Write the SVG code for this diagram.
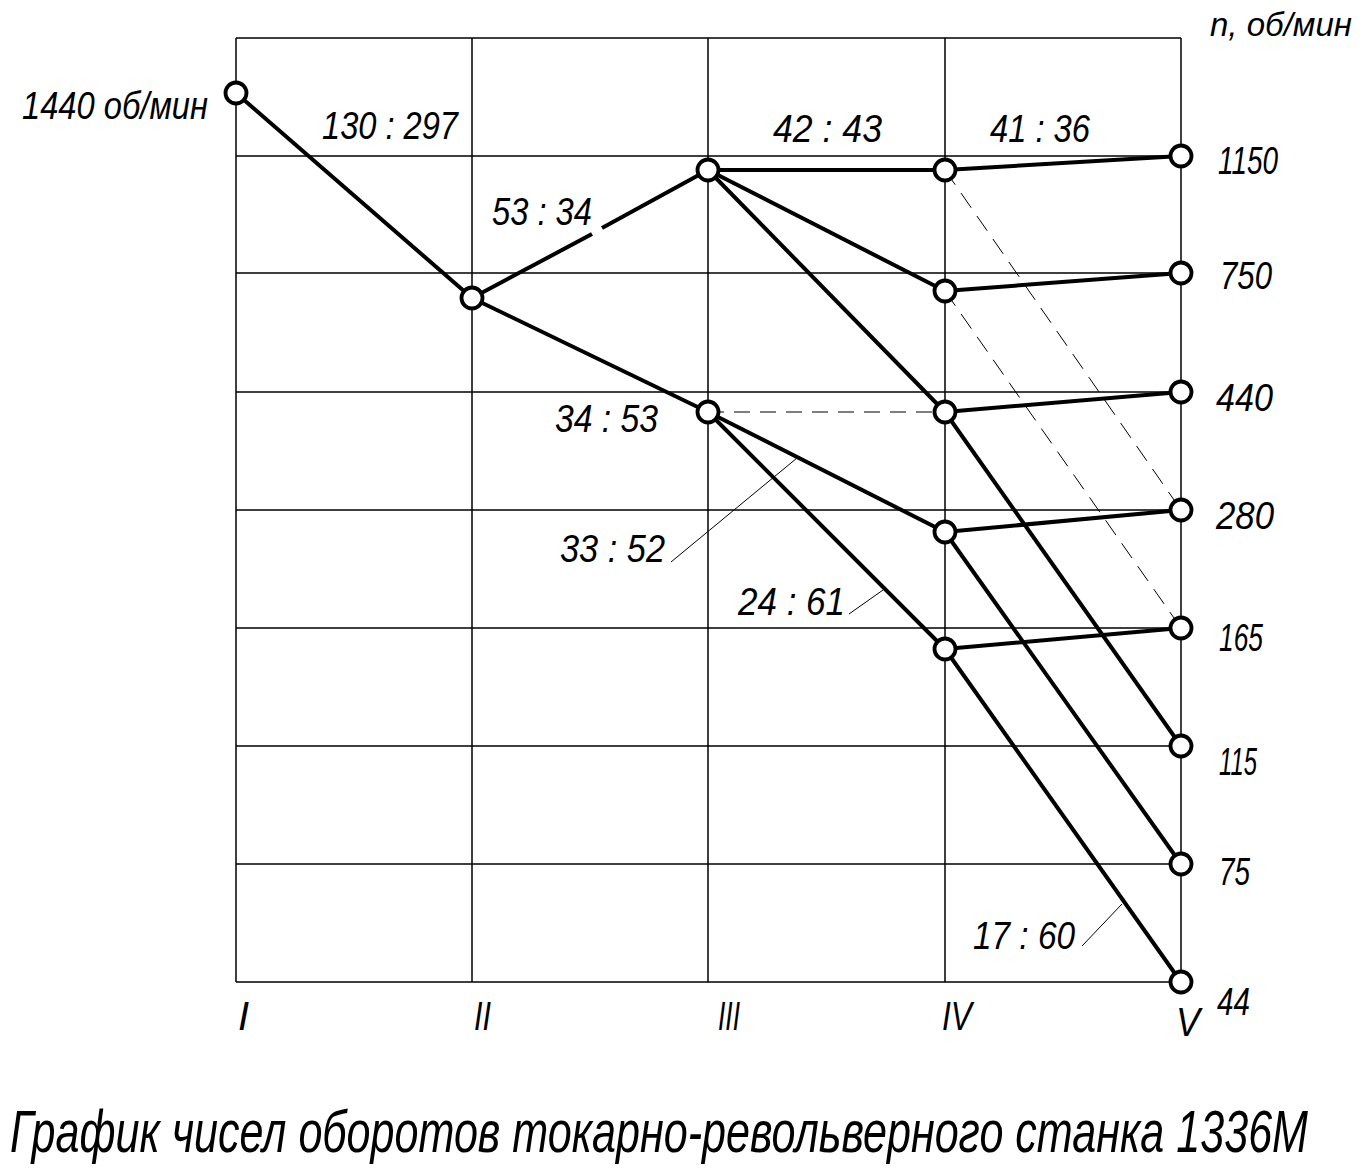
<svg xmlns="http://www.w3.org/2000/svg" width="1369" height="1174" viewBox="0 0 1369 1174">
<style>
.grid{stroke:#000;stroke-width:1.5;fill:none}
.ln{stroke:#000;stroke-width:4;fill:none;stroke-linecap:butt}
.dash{stroke:#000;stroke-width:1;fill:none;stroke-dasharray:18 10}
.dashh{stroke:#000;stroke-width:1.2;fill:none;stroke-dasharray:16 10}
.lead{stroke:#000;stroke-width:1;fill:none}
.nd{fill:#fff;stroke:#000;stroke-width:3.8}
text{font-family:"Liberation Sans","DejaVu Sans",sans-serif;font-style:italic;fill:#000}
.lbl{font-size:38px}
.top{font-size:34px}
.rom{font-size:40px}
.ttl{font-size:45px}
</style>
<rect width="1369" height="1174" fill="#fff"/>
<g id="grid">
<path class="grid" d="M236 38H1181M236 156H1181M236 273H1181M236 392H1181M236 510H1181M236 628H1181M236 746H1181M236 864H1181M236 982H1181"/>
<path class="grid" d="M236 38V982M472 38V982M708 38V982M945 38V982M1181 38V982"/>
</g>
<g id="connectors">
<line class="ln" x1="236" y1="93" x2="472" y2="298"/>
<line class="ln" x1="472" y1="298" x2="592" y2="234"/>
<line class="ln" x1="602" y1="228" x2="708" y2="170"/>
<line class="ln" x1="472" y1="298" x2="708" y2="412"/>
<line class="ln" x1="708" y1="170" x2="945" y2="170"/>
<line class="ln" x1="708" y1="170" x2="945" y2="291"/>
<line class="ln" x1="708" y1="170" x2="945" y2="412"/>
<line class="ln" x1="708" y1="412" x2="945" y2="532"/>
<line class="ln" x1="708" y1="412" x2="945" y2="649"/>
<line class="ln" x1="945" y1="170" x2="1181" y2="156"/>
<line class="ln" x1="945" y1="291" x2="1181" y2="273"/>
<line class="ln" x1="945" y1="412" x2="1181" y2="392"/>
<line class="ln" x1="945" y1="532" x2="1181" y2="510"/>
<line class="ln" x1="945" y1="649" x2="1181" y2="628"/>
<line class="ln" x1="945" y1="412" x2="1181" y2="746"/>
<line class="ln" x1="945" y1="532" x2="1181" y2="864"/>
<line class="ln" x1="945" y1="649" x2="1181" y2="982"/>
<line class="dashh" x1="708" y1="412" x2="945" y2="412"/>
<line class="dash" x1="945" y1="170" x2="1181" y2="510"/>
<line class="dash" x1="945" y1="291" x2="1181" y2="628"/>
<line class="lead" x1="671" y1="562" x2="797" y2="458"/>
<line class="lead" x1="849" y1="614" x2="883" y2="590"/>
<line class="lead" x1="1082" y1="946" x2="1122" y2="904"/>
</g>
<g id="nodes">
<g id="n-I"><circle class="nd" cx="236" cy="93" r="10.5"/></g>
<g id="n-II"><circle class="nd" cx="472" cy="298" r="10.5"/></g>
<g id="n-III-a"><circle class="nd" cx="708" cy="170" r="10.5"/></g>
<g id="n-III-b"><circle class="nd" cx="708" cy="412" r="10.5"/></g>
<g id="n-IV-a"><circle class="nd" cx="945" cy="170" r="10.5"/></g>
<g id="n-IV-b"><circle class="nd" cx="945" cy="291" r="10.5"/></g>
<g id="n-IV-c"><circle class="nd" cx="945" cy="412" r="10.5"/></g>
<g id="n-IV-d"><circle class="nd" cx="945" cy="532" r="10.5"/></g>
<g id="n-IV-e"><circle class="nd" cx="945" cy="649" r="10.5"/></g>
<g id="n-V-1150"><circle class="nd" cx="1181" cy="156" r="10.5"/></g>
<g id="n-V-750"><circle class="nd" cx="1181" cy="273" r="10.5"/></g>
<g id="n-V-440"><circle class="nd" cx="1181" cy="392" r="10.5"/></g>
<g id="n-V-280"><circle class="nd" cx="1181" cy="510" r="10.5"/></g>
<g id="n-V-165"><circle class="nd" cx="1181" cy="628" r="10.5"/></g>
<g id="n-V-115"><circle class="nd" cx="1181" cy="746" r="10.5"/></g>
<g id="n-V-75"><circle class="nd" cx="1181" cy="864" r="10.5"/></g>
<g id="n-V-44"><circle class="nd" cx="1181" cy="982" r="10.5"/></g>
</g>
<g id="labels">
<text class="lbl" x="22" y="119" textLength="186" lengthAdjust="spacingAndGlyphs">1440 об/мин</text>
<text class="lbl" x="322" y="139" textLength="136" lengthAdjust="spacingAndGlyphs">130 : 297</text>
<text class="lbl" x="492" y="225" textLength="100" lengthAdjust="spacingAndGlyphs">53 : 34</text>
<text class="lbl" x="773" y="142" textLength="109" lengthAdjust="spacingAndGlyphs">42 : 43</text>
<text class="lbl" x="990" y="142" textLength="100" lengthAdjust="spacingAndGlyphs">41 : 36</text>
<text class="lbl" x="555" y="432" textLength="103" lengthAdjust="spacingAndGlyphs">34 : 53</text>
<text class="lbl" x="560" y="562" textLength="105" lengthAdjust="spacingAndGlyphs">33 : 52</text>
<text class="lbl" x="738" y="615" textLength="107" lengthAdjust="spacingAndGlyphs">24 : 61</text>
<text class="lbl" x="973" y="949" textLength="102" lengthAdjust="spacingAndGlyphs">17 : 60</text>
<text class="top" x="1210" y="36" textLength="142" lengthAdjust="spacingAndGlyphs">n, об/мин</text>
<text class="lbl" x="1218" y="174" textLength="60" lengthAdjust="spacingAndGlyphs">1150</text>
<text class="lbl" x="1220" y="289" textLength="52" lengthAdjust="spacingAndGlyphs">750</text>
<text class="lbl" x="1216" y="411" textLength="57" lengthAdjust="spacingAndGlyphs">440</text>
<text class="lbl" x="1216" y="529" textLength="58" lengthAdjust="spacingAndGlyphs">280</text>
<text class="lbl" x="1219" y="651" textLength="44" lengthAdjust="spacingAndGlyphs">165</text>
<text class="lbl" x="1219" y="775" textLength="38" lengthAdjust="spacingAndGlyphs">115</text>
<text class="lbl" x="1219" y="885" textLength="31" lengthAdjust="spacingAndGlyphs">75</text>
<text class="lbl" x="1217" y="1015" textLength="33" lengthAdjust="spacingAndGlyphs">44</text>
<text class="rom" x="238" y="1030">I</text>
<text class="rom" x="474" y="1030" textLength="17" lengthAdjust="spacingAndGlyphs">II</text>
<text class="rom" x="718" y="1030" textLength="22" lengthAdjust="spacingAndGlyphs">III</text>
<text class="rom" x="942" y="1030" textLength="30" lengthAdjust="spacingAndGlyphs">IV</text>
<text class="rom" x="1176" y="1036" textLength="24" lengthAdjust="spacingAndGlyphs">V</text>
<g transform="translate(0,1152) scale(1,1.3)">
<text class="ttl" x="10" y="0" textLength="1298" lengthAdjust="spacingAndGlyphs">График чисел оборотов токарно-револьверного станка 1336М</text>
</g>
</g>
</svg>
